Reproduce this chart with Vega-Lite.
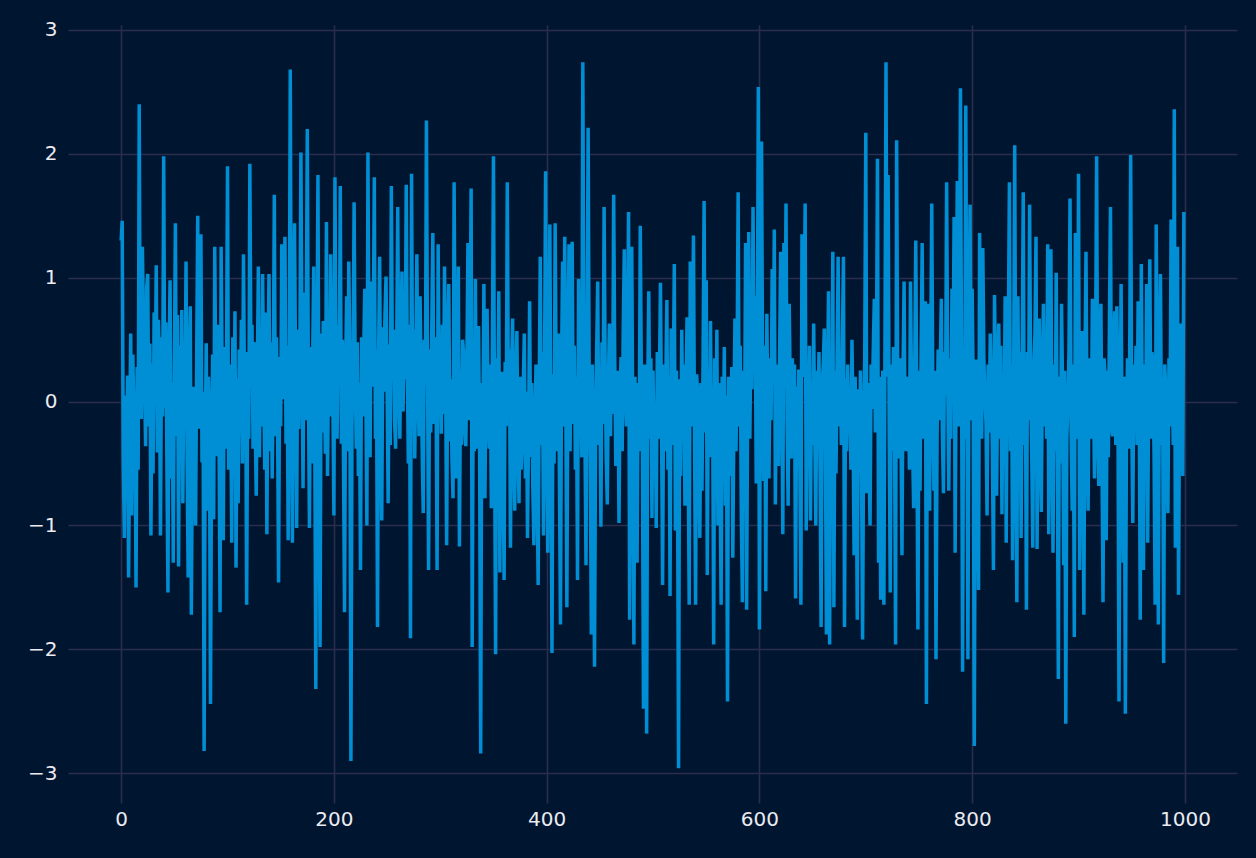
{
"$schema":"https://vega.github.io/schema/vega-lite/v6.json",
"width":1169,"height":778,
"autosize":{"type":"none"},
"padding":{"left":68,"top":25,"right":19,"bottom":55},
"background":"#001530",
"config":{"view":{"stroke":null,"fill":"#001530"},"axis":{"domain":false,"ticks":false,"grid":true,"gridColor":"#2a2e4c","gridWidth":1.6,"labelFont":"DejaVu Sans","labelFontSize":20,"labelColor":"#ebebf0","title":null}},
"data":{"values":[
{"x":0,"y":1.30},{"x":1,"y":1.46},{"x":2,"y":-0.45},{"x":3,"y":-1.10},{"x":4,"y":0.05},{"x":5,"y":-0.62},{"x":6,"y":0.21},{"x":7,"y":-1.42},{"x":8,"y":-0.30},{"x":9,"y":0.55},
{"x":10,"y":-0.92},{"x":11,"y":0.38},{"x":12,"y":-0.15},{"x":13,"y":0.02},{"x":14,"y":-1.50},{"x":15,"y":0.28},{"x":16,"y":-0.55},{"x":17,"y":2.40},{"x":18,"y":0.12},{"x":19,"y":-0.14},
{"x":20,"y":1.25},{"x":21,"y":0.60},{"x":22,"y":0.18},{"x":23,"y":-0.36},{"x":24,"y":0.92},{"x":25,"y":1.03},{"x":26,"y":-0.20},{"x":27,"y":0.47},{"x":28,"y":-1.08},{"x":29,"y":0.31},
{"x":30,"y":-0.58},{"x":31,"y":0.72},{"x":32,"y":0.10},{"x":33,"y":1.10},{"x":34,"y":-0.41},{"x":35,"y":0.66},{"x":36,"y":0.25},{"x":37,"y":-1.08},{"x":38,"y":0.52},{"x":39,"y":-0.12},
{"x":40,"y":1.98},{"x":41,"y":-0.05},{"x":42,"y":0.64},{"x":43,"y":-0.49},{"x":44,"y":-1.54},{"x":45,"y":0.33},{"x":46,"y":0.98},{"x":47,"y":-0.62},{"x":48,"y":0.15},{"x":49,"y":-1.30},
{"x":50,"y":0.21},{"x":51,"y":1.44},{"x":52,"y":-0.28},{"x":53,"y":0.70},{"x":54,"y":-1.33},{"x":55,"y":0.45},{"x":56,"y":-0.35},{"x":57,"y":0.74},{"x":58,"y":-0.82},{"x":59,"y":0.36},
{"x":60,"y":-0.15},{"x":61,"y":1.13},{"x":62,"y":-0.48},{"x":63,"y":-1.42},{"x":64,"y":0.26},{"x":65,"y":0.77},{"x":66,"y":-1.72},{"x":67,"y":-0.30},{"x":68,"y":0.12},{"x":69,"y":-0.60},
{"x":70,"y":-1.00},{"x":71,"y":0.35},{"x":72,"y":1.50},{"x":73,"y":-0.22},{"x":74,"y":0.41},{"x":75,"y":1.35},{"x":76,"y":-0.49},{"x":77,"y":0.08},{"x":78,"y":-2.82},{"x":79,"y":-0.35},
{"x":80,"y":0.47},{"x":81,"y":-0.88},{"x":82,"y":0.20},{"x":83,"y":-0.16},{"x":84,"y":-2.44},{"x":85,"y":-0.42},{"x":86,"y":0.38},{"x":87,"y":-0.95},{"x":88,"y":1.25},{"x":89,"y":0.10},
{"x":90,"y":-0.44},{"x":91,"y":0.62},{"x":92,"y":-0.25},{"x":93,"y":-1.70},{"x":94,"y":1.25},{"x":95,"y":0.15},{"x":96,"y":-1.12},{"x":97,"y":0.44},{"x":98,"y":-0.38},{"x":99,"y":0.20},
{"x":100,"y":1.90},{"x":101,"y":-0.55},{"x":102,"y":0.30},{"x":103,"y":-0.06},{"x":104,"y":-1.14},{"x":105,"y":0.52},{"x":106,"y":-0.40},{"x":107,"y":0.73},{"x":108,"y":-1.34},{"x":109,"y":0.18},
{"x":110,"y":-0.82},{"x":111,"y":0.42},{"x":112,"y":-0.25},{"x":113,"y":0.66},{"x":114,"y":-0.50},{"x":115,"y":1.19},{"x":116,"y":0.05},{"x":117,"y":0.40},{"x":118,"y":-1.64},{"x":119,"y":0.25},
{"x":120,"y":-0.30},{"x":121,"y":1.92},{"x":122,"y":0.35},{"x":123,"y":0.62},{"x":124,"y":-0.38},{"x":125,"y":0.48},{"x":126,"y":-0.15},{"x":127,"y":-0.76},{"x":128,"y":0.22},{"x":129,"y":1.09},
{"x":130,"y":-0.45},{"x":131,"y":0.56},{"x":132,"y":-0.20},{"x":133,"y":1.03},{"x":134,"y":0.16},{"x":135,"y":-0.55},{"x":136,"y":0.72},{"x":137,"y":-1.07},{"x":138,"y":0.30},{"x":139,"y":1.03},
{"x":140,"y":-0.40},{"x":141,"y":0.48},{"x":142,"y":-0.62},{"x":143,"y":0.18},{"x":144,"y":1.67},{"x":145,"y":-0.28},{"x":146,"y":0.52},{"x":147,"y":-0.08},{"x":148,"y":-1.46},{"x":149,"y":0.36},
{"x":150,"y":-0.20},{"x":151,"y":1.27},{"x":152,"y":0.02},{"x":153,"y":0.65},{"x":154,"y":1.33},{"x":155,"y":-0.34},{"x":156,"y":0.45},{"x":157,"y":-1.12},{"x":158,"y":0.28},{"x":159,"y":2.68},
{"x":160,"y":0.10},{"x":161,"y":-1.14},{"x":162,"y":0.52},{"x":163,"y":1.44},{"x":164,"y":0.22},{"x":165,"y":-1.02},{"x":166,"y":0.58},{"x":167,"y":-0.22},{"x":168,"y":0.35},{"x":169,"y":2.01},
{"x":170,"y":0.40},{"x":171,"y":-0.70},{"x":172,"y":0.88},{"x":173,"y":-0.15},{"x":174,"y":0.62},{"x":175,"y":2.20},{"x":176,"y":0.18},{"x":177,"y":-1.02},{"x":178,"y":0.44},{"x":179,"y":-0.50},
{"x":180,"y":0.30},{"x":181,"y":1.09},{"x":182,"y":-0.18},{"x":183,"y":-2.32},{"x":184,"y":0.20},{"x":185,"y":1.83},{"x":186,"y":-0.40},{"x":187,"y":-1.98},{"x":188,"y":0.55},{"x":189,"y":-0.25},
{"x":190,"y":0.65},{"x":191,"y":0.10},{"x":192,"y":-0.42},{"x":193,"y":1.45},{"x":194,"y":-0.60},{"x":195,"y":0.32},{"x":196,"y":-0.12},{"x":197,"y":1.19},{"x":198,"y":0.45},{"x":199,"y":0.05},
{"x":200,"y":-0.92},{"x":201,"y":1.81},{"x":202,"y":0.28},{"x":203,"y":-0.30},{"x":204,"y":0.62},{"x":205,"y":0.14},{"x":206,"y":1.74},{"x":207,"y":-0.34},{"x":208,"y":0.50},{"x":209,"y":-0.45},
{"x":210,"y":-1.70},{"x":211,"y":0.22},{"x":212,"y":0.85},{"x":213,"y":-0.40},{"x":214,"y":1.13},{"x":215,"y":0.30},{"x":216,"y":-2.90},{"x":217,"y":-0.20},{"x":218,"y":0.38},{"x":219,"y":1.61},
{"x":220,"y":0.25},{"x":221,"y":-0.38},{"x":222,"y":0.48},{"x":223,"y":-0.60},{"x":224,"y":0.15},{"x":225,"y":-1.36},{"x":226,"y":0.52},{"x":227,"y":-0.12},{"x":228,"y":0.36},{"x":229,"y":0.91},
{"x":230,"y":0.20},{"x":231,"y":-1.00},{"x":232,"y":2.01},{"x":233,"y":0.28},{"x":234,"y":-0.45},{"x":235,"y":0.97},{"x":236,"y":0.12},{"x":237,"y":0.55},{"x":238,"y":1.81},{"x":239,"y":-0.30},
{"x":240,"y":0.42},{"x":241,"y":-1.82},{"x":242,"y":0.35},{"x":243,"y":1.17},{"x":244,"y":-0.22},{"x":245,"y":-0.96},{"x":246,"y":0.60},{"x":247,"y":0.08},{"x":248,"y":0.70},{"x":249,"y":1.01},
{"x":250,"y":0.12},{"x":251,"y":-0.82},{"x":252,"y":0.46},{"x":253,"y":-0.35},{"x":254,"y":1.74},{"x":255,"y":0.28},{"x":256,"y":0.58},{"x":257,"y":-0.15},{"x":258,"y":-0.38},{"x":259,"y":0.40},
{"x":260,"y":1.57},{"x":261,"y":0.20},{"x":262,"y":-0.30},{"x":263,"y":0.52},{"x":264,"y":1.05},{"x":265,"y":-0.08},{"x":266,"y":0.45},{"x":267,"y":0.18},{"x":268,"y":1.75},{"x":269,"y":0.30},
{"x":270,"y":-0.50},{"x":271,"y":0.62},{"x":272,"y":-1.91},{"x":273,"y":1.84},{"x":274,"y":0.05},{"x":275,"y":0.58},{"x":276,"y":-0.46},{"x":277,"y":0.35},{"x":278,"y":1.19},{"x":279,"y":0.10},
{"x":280,"y":-0.28},{"x":281,"y":0.85},{"x":282,"y":0.25},{"x":283,"y":-0.40},{"x":284,"y":-0.90},{"x":285,"y":0.50},{"x":286,"y":0.15},{"x":287,"y":2.27},{"x":288,"y":0.30},{"x":289,"y":-1.36},
{"x":290,"y":0.42},{"x":291,"y":-0.25},{"x":292,"y":0.60},{"x":293,"y":1.36},{"x":294,"y":-0.18},{"x":295,"y":0.52},{"x":296,"y":0.20},{"x":297,"y":-1.36},{"x":298,"y":1.27},{"x":299,"y":0.08},
{"x":300,"y":0.35},{"x":301,"y":-0.26},{"x":302,"y":0.62},{"x":303,"y":-0.10},{"x":304,"y":1.09},{"x":305,"y":0.22},{"x":306,"y":-1.16},{"x":307,"y":0.40},{"x":308,"y":0.95},{"x":309,"y":-0.32},
{"x":310,"y":0.18},{"x":311,"y":-0.48},{"x":312,"y":-0.78},{"x":313,"y":1.77},{"x":314,"y":0.25},{"x":315,"y":-0.62},{"x":316,"y":0.44},{"x":317,"y":1.09},{"x":318,"y":-1.17},{"x":319,"y":0.12},
{"x":320,"y":-0.35},{"x":321,"y":0.50},{"x":322,"y":0.38},{"x":323,"y":-0.20},{"x":324,"y":-0.36},{"x":325,"y":0.30},{"x":326,"y":1.28},{"x":327,"y":-0.15},{"x":328,"y":0.48},{"x":329,"y":1.72},
{"x":330,"y":-1.98},{"x":331,"y":0.20},{"x":332,"y":-0.40},{"x":333,"y":0.99},{"x":334,"y":-0.38},{"x":335,"y":0.28},{"x":336,"y":0.61},{"x":337,"y":-0.45},{"x":338,"y":-2.84},{"x":339,"y":0.15},
{"x":340,"y":-0.30},{"x":341,"y":0.95},{"x":342,"y":-0.78},{"x":343,"y":0.22},{"x":344,"y":0.75},{"x":345,"y":-0.10},{"x":346,"y":-0.38},{"x":347,"y":0.30},{"x":348,"y":-0.86},{"x":349,"y":0.45},
{"x":350,"y":1.98},{"x":351,"y":-0.20},{"x":352,"y":-2.04},{"x":353,"y":0.35},{"x":354,"y":-0.15},{"x":355,"y":0.89},{"x":356,"y":-1.38},{"x":357,"y":0.10},{"x":358,"y":0.24},{"x":359,"y":-0.55},
{"x":360,"y":-1.44},{"x":361,"y":0.32},{"x":362,"y":-0.20},{"x":363,"y":1.77},{"x":364,"y":0.05},{"x":365,"y":0.42},{"x":366,"y":-1.18},{"x":367,"y":0.25},{"x":368,"y":0.67},{"x":369,"y":-0.40},
{"x":370,"y":-0.88},{"x":371,"y":0.18},{"x":372,"y":0.57},{"x":373,"y":-0.30},{"x":374,"y":-0.82},{"x":375,"y":0.20},{"x":376,"y":-0.55},{"x":377,"y":-0.30},{"x":378,"y":0.12},{"x":379,"y":0.55},
{"x":380,"y":-0.62},{"x":381,"y":0.08},{"x":382,"y":-1.10},{"x":383,"y":-0.25},{"x":384,"y":0.81},{"x":385,"y":-0.45},{"x":386,"y":0.15},{"x":387,"y":-0.70},{"x":388,"y":-1.16},{"x":389,"y":-0.18},
{"x":390,"y":0.30},{"x":391,"y":-0.62},{"x":392,"y":-1.48},{"x":393,"y":0.10},{"x":394,"y":1.17},{"x":395,"y":-0.35},{"x":396,"y":0.40},{"x":397,"y":-1.08},{"x":398,"y":0.25},{"x":399,"y":1.86},
{"x":400,"y":-0.15},{"x":401,"y":-1.22},{"x":402,"y":0.40},{"x":403,"y":1.43},{"x":404,"y":-0.30},{"x":405,"y":-2.03},{"x":406,"y":0.22},{"x":407,"y":-0.50},{"x":408,"y":1.44},{"x":409,"y":0.10},
{"x":410,"y":-0.40},{"x":411,"y":0.55},{"x":412,"y":-0.62},{"x":413,"y":-1.80},{"x":414,"y":0.30},{"x":415,"y":1.13},{"x":416,"y":-0.20},{"x":417,"y":1.33},{"x":418,"y":0.05},{"x":419,"y":-1.66},
{"x":420,"y":0.25},{"x":421,"y":1.27},{"x":422,"y":-0.40},{"x":423,"y":0.62},{"x":424,"y":1.29},{"x":425,"y":-0.18},{"x":426,"y":0.45},{"x":427,"y":-0.55},{"x":428,"y":0.20},{"x":429,"y":-1.44},
{"x":430,"y":0.99},{"x":431,"y":-0.20},{"x":432,"y":0.35},{"x":433,"y":-0.45},{"x":434,"y":2.74},{"x":435,"y":0.40},{"x":436,"y":-0.30},{"x":437,"y":-1.32},{"x":438,"y":0.55},{"x":439,"y":2.21},
{"x":440,"y":0.15},{"x":441,"y":-0.50},{"x":442,"y":-1.88},{"x":443,"y":0.30},{"x":444,"y":-0.62},{"x":445,"y":-2.14},{"x":446,"y":-0.25},{"x":447,"y":0.40},{"x":448,"y":0.97},{"x":449,"y":-0.35},
{"x":450,"y":0.22},{"x":451,"y":-1.01},{"x":452,"y":0.48},{"x":453,"y":-0.18},{"x":454,"y":1.57},{"x":455,"y":0.30},{"x":456,"y":-0.45},{"x":457,"y":-0.83},{"x":458,"y":0.15},{"x":459,"y":0.63},
{"x":460,"y":-0.28},{"x":461,"y":0.40},{"x":462,"y":-0.10},{"x":463,"y":1.67},{"x":464,"y":0.35},{"x":465,"y":-0.52},{"x":466,"y":-0.18},{"x":467,"y":0.25},{"x":468,"y":-0.98},{"x":469,"y":0.10},
{"x":470,"y":0.36},{"x":471,"y":-0.40},{"x":472,"y":0.60},{"x":473,"y":1.23},{"x":474,"y":0.05},{"x":475,"y":-0.20},{"x":476,"y":0.48},{"x":477,"y":1.53},{"x":478,"y":-1.76},{"x":479,"y":0.30},
{"x":480,"y":1.25},{"x":481,"y":-0.30},{"x":482,"y":-1.96},{"x":483,"y":0.20},{"x":484,"y":-0.55},{"x":485,"y":-1.30},{"x":486,"y":0.15},{"x":487,"y":-0.40},{"x":488,"y":1.42},{"x":489,"y":0.22},
{"x":490,"y":-0.35},{"x":491,"y":-2.48},{"x":492,"y":0.30},{"x":493,"y":-0.60},{"x":494,"y":-2.68},{"x":495,"y":0.10},{"x":496,"y":0.89},{"x":497,"y":-0.30},{"x":498,"y":0.35},{"x":499,"y":-0.94},
{"x":500,"y":0.25},{"x":501,"y":-0.45},{"x":502,"y":0.00},{"x":503,"y":-1.02},{"x":504,"y":0.40},{"x":505,"y":-0.30},{"x":506,"y":0.18},{"x":507,"y":0.96},{"x":508,"y":-0.22},{"x":509,"y":-1.48},
{"x":510,"y":0.30},{"x":511,"y":-0.40},{"x":512,"y":0.15},{"x":513,"y":0.82},{"x":514,"y":-0.55},{"x":515,"y":0.20},{"x":516,"y":-1.57},{"x":517,"y":0.59},{"x":518,"y":-0.35},{"x":519,"y":0.12},
{"x":520,"y":1.11},{"x":521,"y":-1.04},{"x":522,"y":0.25},{"x":523,"y":-0.50},{"x":524,"y":-2.96},{"x":525,"y":0.18},{"x":526,"y":-0.60},{"x":527,"y":0.58},{"x":528,"y":-0.25},{"x":529,"y":0.30},
{"x":530,"y":-0.84},{"x":531,"y":0.12},{"x":532,"y":0.68},{"x":533,"y":-0.40},{"x":534,"y":-1.64},{"x":535,"y":1.13},{"x":536,"y":-0.20},{"x":537,"y":0.35},{"x":538,"y":1.34},{"x":539,"y":-0.30},
{"x":540,"y":-1.64},{"x":541,"y":0.22},{"x":542,"y":0.06},{"x":543,"y":-0.55},{"x":544,"y":-1.10},{"x":545,"y":0.15},{"x":546,"y":-0.72},{"x":547,"y":0.30},{"x":548,"y":1.62},{"x":549,"y":-0.25},
{"x":550,"y":0.98},{"x":551,"y":-1.40},{"x":552,"y":0.20},{"x":553,"y":-0.45},{"x":554,"y":0.65},{"x":555,"y":-0.30},{"x":556,"y":0.12},{"x":557,"y":-1.96},{"x":558,"y":0.35},{"x":559,"y":-0.50},
{"x":560,"y":0.58},{"x":561,"y":-1.00},{"x":562,"y":0.15},{"x":563,"y":-0.62},{"x":564,"y":-1.64},{"x":565,"y":0.20},{"x":566,"y":-0.35},{"x":567,"y":0.44},{"x":568,"y":-0.84},{"x":569,"y":0.05},
{"x":570,"y":-2.42},{"x":571,"y":0.20},{"x":572,"y":-0.10},{"x":573,"y":-0.60},{"x":574,"y":0.28},{"x":575,"y":-1.26},{"x":576,"y":-0.15},{"x":577,"y":0.67},{"x":578,"y":-0.40},{"x":579,"y":0.30},
{"x":580,"y":1.69},{"x":581,"y":-0.20},{"x":582,"y":0.45},{"x":583,"y":-0.94},{"x":584,"y":-1.62},{"x":585,"y":0.25},{"x":586,"y":-0.35},{"x":587,"y":1.28},{"x":588,"y":-1.68},{"x":589,"y":0.15},
{"x":590,"y":1.37},{"x":591,"y":-0.30},{"x":592,"y":0.55},{"x":593,"y":0.10},{"x":594,"y":1.57},{"x":595,"y":0.35},{"x":596,"y":0.85},{"x":597,"y":-0.66},{"x":598,"y":0.40},{"x":599,"y":2.54},
{"x":600,"y":-1.84},{"x":601,"y":0.30},{"x":602,"y":2.10},{"x":603,"y":0.20},{"x":604,"y":-0.64},{"x":605,"y":0.45},{"x":606,"y":-1.53},{"x":607,"y":0.71},{"x":608,"y":-0.20},{"x":609,"y":-0.62},
{"x":610,"y":0.35},{"x":611,"y":-0.15},{"x":612,"y":1.07},{"x":613,"y":0.22},{"x":614,"y":1.39},{"x":615,"y":-0.83},{"x":616,"y":0.30},{"x":617,"y":0.05},{"x":618,"y":-0.52},{"x":619,"y":0.40},
{"x":620,"y":1.21},{"x":621,"y":0.15},{"x":622,"y":-1.07},{"x":623,"y":1.28},{"x":624,"y":0.25},{"x":625,"y":1.60},{"x":626,"y":-0.18},{"x":627,"y":-0.84},{"x":628,"y":0.79},{"x":629,"y":0.10},
{"x":630,"y":-0.46},{"x":631,"y":0.35},{"x":632,"y":-0.20},{"x":633,"y":0.30},{"x":634,"y":-1.59},{"x":635,"y":0.12},{"x":636,"y":-0.40},{"x":637,"y":0.26},{"x":638,"y":-0.55},{"x":639,"y":-1.64},
{"x":640,"y":1.35},{"x":641,"y":0.20},{"x":642,"y":0.55},{"x":643,"y":1.60},{"x":644,"y":-1.04},{"x":645,"y":0.30},{"x":646,"y":-0.25},{"x":647,"y":0.45},{"x":648,"y":-0.96},{"x":649,"y":0.10},
{"x":650,"y":-0.35},{"x":651,"y":0.63},{"x":652,"y":-0.20},{"x":653,"y":-1.00},{"x":654,"y":0.25},{"x":655,"y":-0.18},{"x":656,"y":0.40},{"x":657,"y":-0.55},{"x":658,"y":-1.82},{"x":659,"y":0.12},
{"x":660,"y":0.30},{"x":661,"y":0.59},{"x":662,"y":-0.30},{"x":663,"y":-1.88},{"x":664,"y":0.20},{"x":665,"y":0.89},{"x":666,"y":-1.96},{"x":667,"y":0.15},{"x":668,"y":-0.40},{"x":669,"y":1.21},
{"x":670,"y":-1.66},{"x":671,"y":0.25},{"x":672,"y":-0.58},{"x":673,"y":0.35},{"x":674,"y":1.17},{"x":675,"y":-0.20},{"x":676,"y":0.34},{"x":677,"y":-0.35},{"x":678,"y":0.50},{"x":679,"y":1.17},
{"x":680,"y":-1.82},{"x":681,"y":0.18},{"x":682,"y":-0.40},{"x":683,"y":0.30},{"x":684,"y":-0.26},{"x":685,"y":0.12},{"x":686,"y":-0.55},{"x":687,"y":0.50},{"x":688,"y":-0.15},{"x":689,"y":-1.24},
{"x":690,"y":0.20},{"x":691,"y":-0.45},{"x":692,"y":-1.76},{"x":693,"y":0.10},{"x":694,"y":-0.52},{"x":695,"y":0.25},{"x":696,"y":-0.60},{"x":697,"y":-1.92},{"x":698,"y":-0.20},{"x":699,"y":0.35},
{"x":700,"y":2.17},{"x":701,"y":-0.74},{"x":702,"y":0.15},{"x":703,"y":-0.45},{"x":704,"y":-1.00},{"x":705,"y":0.30},{"x":706,"y":-0.06},{"x":707,"y":0.40},{"x":708,"y":0.83},{"x":709,"y":-0.25},
{"x":710,"y":0.35},{"x":711,"y":1.96},{"x":712,"y":-1.30},{"x":713,"y":0.20},{"x":714,"y":-1.60},{"x":715,"y":-0.30},{"x":716,"y":0.25},{"x":717,"y":-1.64},{"x":718,"y":0.40},{"x":719,"y":2.74},
{"x":720,"y":0.20},{"x":721,"y":1.83},{"x":722,"y":-0.25},{"x":723,"y":-1.54},{"x":724,"y":0.30},{"x":725,"y":-0.40},{"x":726,"y":0.44},{"x":727,"y":-0.15},{"x":728,"y":-1.96},{"x":729,"y":2.11},
{"x":730,"y":0.15},{"x":731,"y":-0.46},{"x":732,"y":0.35},{"x":733,"y":-0.20},{"x":734,"y":-1.24},{"x":735,"y":0.25},{"x":736,"y":0.97},{"x":737,"y":-0.30},{"x":738,"y":-0.40},{"x":739,"y":0.20},
{"x":740,"y":0.14},{"x":741,"y":-0.55},{"x":742,"y":0.97},{"x":743,"y":0.10},{"x":744,"y":-0.35},{"x":745,"y":-0.86},{"x":746,"y":0.30},{"x":747,"y":1.30},{"x":748,"y":-0.20},{"x":749,"y":-1.84},
{"x":750,"y":0.25},{"x":751,"y":-0.72},{"x":752,"y":0.40},{"x":753,"y":1.28},{"x":754,"y":-0.30},{"x":755,"y":0.15},{"x":756,"y":0.81},{"x":757,"y":-2.44},{"x":758,"y":0.79},{"x":759,"y":-0.20},
{"x":760,"y":-0.88},{"x":761,"y":0.35},{"x":762,"y":1.60},{"x":763,"y":0.10},{"x":764,"y":-0.72},{"x":765,"y":0.25},{"x":766,"y":-2.08},{"x":767,"y":-0.30},{"x":768,"y":0.42},{"x":769,"y":-0.15},
{"x":770,"y":0.30},{"x":771,"y":0.83},{"x":772,"y":-0.25},{"x":773,"y":-0.74},{"x":774,"y":0.40},{"x":775,"y":0.05},{"x":776,"y":1.77},{"x":777,"y":0.20},{"x":778,"y":-0.72},{"x":779,"y":0.35},
{"x":780,"y":-0.30},{"x":781,"y":0.91},{"x":782,"y":0.20},{"x":783,"y":1.49},{"x":784,"y":-1.22},{"x":785,"y":0.40},{"x":786,"y":1.78},{"x":787,"y":-0.20},{"x":788,"y":0.55},{"x":789,"y":2.53},
{"x":790,"y":0.30},{"x":791,"y":-2.18},{"x":792,"y":0.45},{"x":793,"y":-0.30},{"x":794,"y":2.39},{"x":795,"y":0.25},{"x":796,"y":-2.08},{"x":797,"y":0.40},{"x":798,"y":1.59},{"x":799,"y":-0.15},
{"x":800,"y":0.91},{"x":801,"y":0.10},{"x":802,"y":-2.78},{"x":803,"y":-0.20},{"x":804,"y":0.34},{"x":805,"y":-0.45},{"x":806,"y":-1.52},{"x":807,"y":1.36},{"x":808,"y":0.20},{"x":809,"y":-0.30},
{"x":810,"y":1.24},{"x":811,"y":0.35},{"x":812,"y":0.05},{"x":813,"y":-0.18},{"x":814,"y":-0.92},{"x":815,"y":0.30},{"x":816,"y":-0.25},{"x":817,"y":0.55},{"x":818,"y":0.10},{"x":819,"y":-0.40},
{"x":820,"y":-1.36},{"x":821,"y":0.86},{"x":822,"y":0.15},{"x":823,"y":-0.76},{"x":824,"y":0.25},{"x":825,"y":0.63},{"x":826,"y":-0.30},{"x":827,"y":0.45},{"x":828,"y":-0.91},{"x":829,"y":0.20},
{"x":830,"y":-0.35},{"x":831,"y":0.85},{"x":832,"y":-1.14},{"x":833,"y":0.25},{"x":834,"y":0.55},{"x":835,"y":1.77},{"x":836,"y":-0.40},{"x":837,"y":0.30},{"x":838,"y":-1.28},{"x":839,"y":0.20},
{"x":840,"y":2.07},{"x":841,"y":-0.30},{"x":842,"y":-1.62},{"x":843,"y":0.85},{"x":844,"y":-0.20},{"x":845,"y":0.40},{"x":846,"y":-1.10},{"x":847,"y":0.30},{"x":848,"y":1.69},{"x":849,"y":-0.35},
{"x":850,"y":0.25},{"x":851,"y":-1.68},{"x":852,"y":0.40},{"x":853,"y":-0.15},{"x":854,"y":1.59},{"x":855,"y":0.10},{"x":856,"y":-0.45},{"x":857,"y":-1.18},{"x":858,"y":0.30},{"x":859,"y":0.55},
{"x":860,"y":1.33},{"x":861,"y":-1.19},{"x":862,"y":0.20},{"x":863,"y":0.67},{"x":864,"y":-0.35},{"x":865,"y":-0.89},{"x":866,"y":0.25},{"x":867,"y":0.79},{"x":868,"y":-0.20},{"x":869,"y":0.40},
{"x":870,"y":-0.30},{"x":871,"y":1.27},{"x":872,"y":-1.07},{"x":873,"y":0.35},{"x":874,"y":1.23},{"x":875,"y":-0.25},{"x":876,"y":-1.22},{"x":877,"y":0.30},{"x":878,"y":-0.40},{"x":879,"y":1.04},
{"x":880,"y":-0.35},{"x":881,"y":-2.24},{"x":882,"y":0.20},{"x":883,"y":-0.50},{"x":884,"y":0.79},{"x":885,"y":0.10},{"x":886,"y":-1.32},{"x":887,"y":0.25},{"x":888,"y":-2.60},{"x":889,"y":-0.30},
{"x":890,"y":-0.02},{"x":891,"y":0.40},{"x":892,"y":1.64},{"x":893,"y":-0.25},{"x":894,"y":-0.88},{"x":895,"y":0.30},{"x":896,"y":-1.90},{"x":897,"y":1.36},{"x":898,"y":0.20},{"x":899,"y":-0.30},
{"x":900,"y":1.84},{"x":901,"y":-1.36},{"x":902,"y":0.15},{"x":903,"y":0.57},{"x":904,"y":-0.40},{"x":905,"y":-1.72},{"x":906,"y":0.30},{"x":907,"y":1.21},{"x":908,"y":-0.20},{"x":909,"y":-0.88},
{"x":910,"y":0.35},{"x":911,"y":0.14},{"x":912,"y":-0.30},{"x":913,"y":0.83},{"x":914,"y":0.10},{"x":915,"y":-0.62},{"x":916,"y":0.40},{"x":917,"y":1.98},{"x":918,"y":-0.25},{"x":919,"y":-0.68},
{"x":920,"y":0.30},{"x":921,"y":0.79},{"x":922,"y":-0.40},{"x":923,"y":-1.62},{"x":924,"y":0.35},{"x":925,"y":0.20},{"x":926,"y":-1.12},{"x":927,"y":0.25},{"x":928,"y":-0.45},{"x":929,"y":0.60},
{"x":930,"y":1.57},{"x":931,"y":-0.20},{"x":932,"y":-0.28},{"x":933,"y":0.40},{"x":934,"y":0.73},{"x":935,"y":-0.35},{"x":936,"y":0.77},{"x":937,"y":0.10},{"x":938,"y":-2.42},{"x":939,"y":-0.20},
{"x":940,"y":0.95},{"x":941,"y":-0.40},{"x":942,"y":-1.30},{"x":943,"y":0.20},{"x":944,"y":-2.52},{"x":945,"y":-0.30},{"x":946,"y":0.35},{"x":947,"y":-0.38},{"x":948,"y":0.25},{"x":949,"y":1.99},
{"x":950,"y":-0.20},{"x":951,"y":-0.98},{"x":952,"y":0.30},{"x":953,"y":-0.24},{"x":954,"y":0.45},{"x":955,"y":-0.35},{"x":956,"y":0.81},{"x":957,"y":0.10},{"x":958,"y":-1.76},{"x":959,"y":1.11},
{"x":960,"y":-0.25},{"x":961,"y":-1.36},{"x":962,"y":0.30},{"x":963,"y":-0.40},{"x":964,"y":0.95},{"x":965,"y":-1.14},{"x":966,"y":0.20},{"x":967,"y":1.15},{"x":968,"y":-0.30},{"x":969,"y":0.40},
{"x":970,"y":0.30},{"x":971,"y":-0.45},{"x":972,"y":-1.64},{"x":973,"y":1.43},{"x":974,"y":0.15},{"x":975,"y":-1.80},{"x":976,"y":0.25},{"x":977,"y":1.03},{"x":978,"y":-0.35},{"x":979,"y":0.20},
{"x":980,"y":-2.11},{"x":981,"y":0.30},{"x":982,"y":0.10},{"x":983,"y":-0.40},{"x":984,"y":-0.90},{"x":985,"y":0.35},{"x":986,"y":-0.20},{"x":987,"y":1.47},{"x":988,"y":0.25},{"x":989,"y":-0.35},
{"x":990,"y":2.36},{"x":991,"y":-1.18},{"x":992,"y":0.30},{"x":993,"y":1.25},{"x":994,"y":-1.56},{"x":995,"y":0.20},{"x":996,"y":0.63},{"x":997,"y":-0.30},{"x":998,"y":-0.60},{"x":999,"y":1.53}
]},
"mark":{"type":"line","color":"#008fd5","strokeWidth":3.5,"clip":true},
"encoding":{
"x":{"field":"x","type":"quantitative","scale":{"domain":[-49.95,1048.95],"nice":false,"zero":false},"axis":{"values":[0,200,400,600,800,1000],"format":"d","labelFontSize":20,"labelPadding":6}},
"y":{"field":"y","type":"quantitative","scale":{"domain":[-3.24,3.04],"nice":false,"zero":false},"axis":{"values":[-3,-2,-1,0,1,2,3],"format":"d","labelFontSize":20,"labelPadding":11}}
}
}
